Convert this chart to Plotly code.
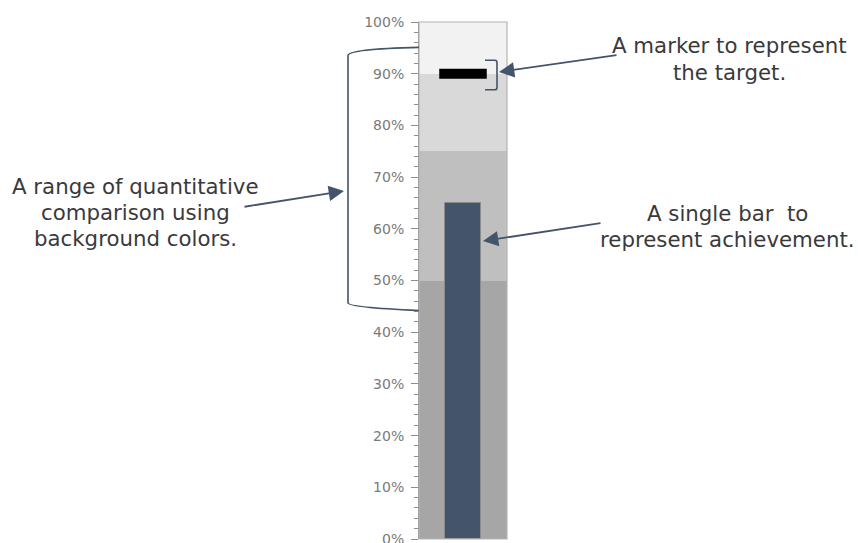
import plotly.graph_objects as go

# Qualitative ranges (lower bound, upper bound) and their fill colours
band_low = [0.0, 0.50, 0.75, 0.90]
band_high = [0.50, 0.75, 0.90, 1.00]
band_colors = ["#a6a6a6", "#bfbfbf", "#d9d9d9", "#f2f2f2"]

# Performance measure and target
achievement = 0.65
target = 0.90

# Callout texts
range_lines = ["A range of quantitative", "comparison using", "background colors."]
target_lines = ["A marker to represent", "the target."]
bar_lines = ["A single bar  to", "represent achievement."]

W, H = 858, 543
ARROW = "#44546a"
TEXT = "#3a3a3a"
FONT = "DejaVu Sans"

fig = go.Figure()

# background ranges
for lo, hi, col in zip(band_low, band_high, band_colors):
    fig.add_trace(go.Bar(
        x=[0], y=[hi - lo], base=[lo], width=1.0,
        marker=dict(color=col, line=dict(width=0)),
        hoverinfo="skip", showlegend=False,
    ))

# achievement bar
fig.add_trace(go.Bar(
    x=[0], y=[achievement], base=[0], width=0.42,
    marker=dict(color="#44546a", line=dict(color="#8c8c8c", width=1)),
    showlegend=False,
))

# target marker
fig.add_trace(go.Scatter(
    x=[-0.27, 0.27], y=[target, target], mode="lines",
    line=dict(color="#000000", width=10),
    showlegend=False,
))

x0, x1 = 419 / W, 507 / W
y_top, y_bot = 1 - 22 / H, 1 - 539 / H

fig.update_layout(
    width=W, height=H,
    margin=dict(l=0, r=0, t=0, b=0, autoexpand=False),
    paper_bgcolor="white", plot_bgcolor="white",
    barmode="overlay", bargap=0,
    xaxis=dict(domain=[x0, x1], range=[-0.5, 0.5], visible=False,
               fixedrange=True, automargin=False),
    yaxis=dict(
        domain=[y_bot, y_top], range=[0, 1], dtick=0.1, tickformat=".0%",
        automargin=False, ticklabeloverflow="allow",
        showgrid=False, zeroline=False,
        showline=True, linecolor="#8c8c8c", linewidth=1,
        ticks="outside", ticklen=7, tickcolor="#8c8c8c", tickwidth=1,
        minor=dict(dtick=0.02, ticks="outside", ticklen=4, tickcolor="#8c8c8c", showgrid=False),
        tickfont=dict(family=FONT, size=14, color="#7a7a7a"),
        ticklabelstandoff=4,
    ),
    font=dict(family=FONT),
)

# plot-area outline
fig.add_shape(type="rect", xref="x domain", yref="y domain", x0=0, x1=1, y0=0, y1=1,
              line=dict(color="#b4b4b4", width=1.2), layer="above")

# brace spanning the comparison ranges
bx = 348 / W
fig.add_shape(
    type="path", xref="paper", yref="y", layer="above",
    path=(f"M {x0},0.951 Q {bx},0.948 {bx},0.935 "
          f"L {bx},0.457 Q {bx},0.448 {x0},0.442"),
    line=dict(color=ARROW, width=1.6),
)

# small bracket beside the target marker
b0, b1 = 485 / W, 497 / W
bq = 495 / W
fig.add_shape(
    type="path", xref="paper", yref="y", layer="above",
    path=(f"M {b0},0.926 L {bq},0.926 Q {b1},0.926 {b1},0.921 "
          f"L {b1},0.874 Q {b1},0.869 {bq},0.869 L {b0},0.869"),
    line=dict(color=ARROW, width=1.6),
)


def px(xp, yp):
    return xp / W, 1 - yp / H


def callout(tip, tail):
    tx, ty = px(*tip)
    fig.add_annotation(
        x=tx, y=ty, xref="paper", yref="paper", text="",
        showarrow=True, arrowhead=2, arrowsize=1.7, arrowwidth=1.8,
        arrowcolor=ARROW, ax=tail[0] - tip[0], ay=tail[1] - tip[1], standoff=0,
    )


def text_block(lines, cx, cy0, step):
    for i, t in enumerate(lines):
        xx, yy = px(cx, cy0 + i * step)
        fig.add_annotation(
            x=xx, y=yy, xref="paper", yref="paper", text=t, showarrow=False,
            xanchor="center", yanchor="middle",
            font=dict(family=FONT, size=21.3, color=TEXT),
        )


callout((344, 191), (243, 207))
callout((499, 72), (618, 55))
callout((483, 241), (602, 223))

text_block(range_lines, 135, 186, 26)
text_block(target_lines, 729, 45, 27)
text_block(bar_lines, 727, 213, 26)

fig.write_html("out.html")
